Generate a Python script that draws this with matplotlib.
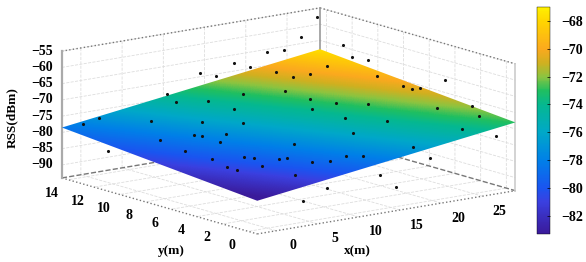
import matplotlib
matplotlib.use("Agg")
import matplotlib.pyplot as plt
import numpy as np
from matplotlib.colors import LinearSegmentedColormap, Normalize
from matplotlib.cm import ScalarMappable
from matplotlib.patches import Polygon
from matplotlib.transforms import Affine2D
from mpl_toolkits.mplot3d import proj3d

plt.rcParams["font.family"] = ["Liberation Serif", "DejaVu Serif"]
plt.rcParams["font.weight"] = "bold"

x_ticks = [0, 5, 10, 15, 20, 25]
y_ticks = [0, 2, 4, 6, 8, 10, 12, 14]
z_ticks = [-55, -60, -65, -70, -75, -80, -85, -90]
cbar_ticks = [-68, -70, -72, -74, -76, -78, -80, -82]
x_lim = (-2.3, 29)
y_lim = (-0.7, 14.5)
z_lim = (-94, -55)

# 평면 네 꼭짓점 (행: y, 열: x)
plane_z = [[-83.8, -73.0], [-78.5, -67.7]]

# 측정 지점
point_x = [21.9, 24.0, 17.9, 19.9, 13.8, 15.8, 21.9, 22.2, 9.8, 10.0, 12.2, 15.9, 19.1, 12.5,
           4.9, 8.1, 10.6, 1.6, -0.4, 28.0, 26.1, 28.4, 28.4, 28.4, 26.4, 23.9, 28.0, 28.0,
           28.0, 28.4, 28.4, 26.3, 28.4, 27.7, 24.2, 19.4, 20.4, 22.4, 17.7, 18.5, 20.6, -1.7,
           2.1, 1.7, 5.3, 5.7, 5.6, 7.5, 2.2, 4.7, 5.2, 6.7, 7.4, 4.3, 1.8, 1.9, 16.2, 27.3,
           10.3, 8.2, 9.6, 11.6, 12.7, 17.7, 19.3, 4.8, 13.2, 6.8, 15.1, 3.9]
point_y = [14.1, 14.1, 14.1, 14.1, 14.1, 14.1, 13.4, 12.2, 14.1, 13.5, 12.4, 12.1, 10.9, 10.6,
           12.2, 10.3, 8.7, 14.1, 14.1, 14.1, 14.1, 12.3, 11.6, 10.4, 12.3, 12.0, 9.4, 7.4,
           6.7, 6.3, 4.4, 3.7, 2.3, 1.3, 0.4, 9.1, 7.7, 6.5, 7.9, 5.8, 3.9, 11.3, 9.7, 7.5,
           9.1, 8.7, 7.3, 8.0, 5.7, 4.8, 4.4, 3.4, 3.2, 3.2, 4.3, 3.6, 3.7, -0.3, 4.5, 1.8,
           1.3, 1.3, 0.7, 0.0, -0.3, 0.9, -0.3, -0.3, -0.3, -0.3]
point_z = [-65.2, -65.4, -66.9, -68.9, -68.2, -70.0, -70.5, -70.9, -73.0, -74.6, -74.2, -73.1,
           -72.4, -74.8, -76.8, -76.4, -76.1, -76.9, -77.7, -56.9, -62.3, -63.7, -66.6, -66.1,
           -69.4, -70.4, -69.8, -70.6, -70.8, -70.2, -65.5, -72.4, -71.2, -72.8, -74.3, -72.9,
           -73.0, -72.8, -73.9, -74.4, -74.3, -82.3, -78.7, -79.6, -77.8, -77.8, -78.3, -77.4,
           -80.0, -79.5, -79.5, -79.3, -79.1, -80.2, -80.7, -80.9, -75.9, -77.0, -77.7, -79.3,
           -79.0, -78.3, -78.1, -76.7, -80.4, -80.8, -82.8, -84.1, -87.3, -86.9]

map_levels = [-83.3, -82, -81, -80, -78, -76, -74, -73, -72, -71, -70, -68, -67]
map_colors = ["#3a1a9a", "#3a2fc0", "#3a40e0", "#1a55f0", "#0080e8", "#00a8c8", "#05b890",
              "#20bf60", "#8cc440", "#d0b020", "#fba91e", "#ffd500", "#fff000"]
norm = Normalize(-83.3, -67)
cmap = LinearSegmentedColormap.from_list("rss", [(norm(v), c) for v, c in zip(map_levels, map_colors)])

fig = plt.figure(figsize=(5.86, 2.62), dpi=100)
ax = fig.add_axes([0.0265, 0.025, 0.92, 1], projection="3d", proj_type="ortho",
                  azim=-127.4, elev=12.66)
ax.set_box_aspect((1, 0.99, 0.4), zoom=1.761)
ax.set_xlim(x_lim)
ax.set_ylim(y_lim)
ax.set_zlim(z_lim)
ax.set_xticks(x_ticks)
ax.set_yticks(y_ticks)
ax.set_zticks(z_ticks)
ax.set_xticklabels([])
ax.set_yticklabels([])
ax.set_zticklabels([])
for a in (ax.xaxis, ax.yaxis, ax.zaxis):
    a.set_pane_color((1, 1, 1, 0))
    a.line.set_color((1, 1, 1, 0))
    a._axinfo["grid"].update(color="#dddddd", linewidth=0.6, linestyle="--")
    a._axinfo["tick"].update(inward_factor=0, outward_factor=0)

fig.canvas.draw()
M = ax.get_proj()


def to_pixel(xs, ys, zs):
    px, py, _ = proj3d.proj_transform(np.array(xs, float), np.array(ys, float),
                                      np.array(zs, float), M)
    return ax.transData.transform(np.column_stack([px, py]))


ov = fig.add_axes([0, 0, 1, 1], facecolor="none")
ov.axis("off")

# 바깥 테두리
x0, x1 = x_lim
y0, y1 = y_lim
z0, z1 = z_lim
for p, q, st in [((x0, y1, z1), (x1, y1, z1), ":"), ((x1, y1, z1), (x1, y0, z1), ":"),
                 ((x0, y1, z0), (x0, y0, z0), ":"), ((x0, y0, z0), (x1, y0, z0), ":"),
                 ((x0, y1, z0), (x1, y1, z0), "--"), ((x1, y1, z0), (x1, y0, z0), "--")]:
    pts = to_pixel(*zip(p, q))
    ov.plot(pts[:, 0], pts[:, 1], color="#777777", lw=1.0, ls=st, zorder=1)
pts = to_pixel([x0, x0], [y1, y1], [z0, z1])
ov.plot(pts[:, 0], pts[:, 1], color="#aaaaaa", lw=1.6, zorder=1)
pts = to_pixel([x1, x1], [y1, y1], [z0, z1])
ov.plot(pts[:, 0], pts[:, 1], color="#999999", lw=1.2, zorder=1)
pts = to_pixel([x1, x1], [y0, y0], [z0, z1])
ov.plot(pts[:, 0], pts[:, 1], color="#cccccc", lw=1.2, zorder=1)

# 평면: 2x2 값을 bilinear 로 그리고 평행사변형으로 자르기
c00 = to_pixel([x0], [y0], [plane_z[0][0]])[0]
c10 = to_pixel([x1], [y0], [plane_z[0][1]])[0]
c01 = to_pixel([x0], [y1], [plane_z[1][0]])[0]
c11 = to_pixel([x1], [y1], [plane_z[1][1]])[0]
ex, ey = c10 - c00, c01 - c00
unit = Affine2D(np.array([[ex[0], ey[0], c00[0]], [ex[1], ey[1], c00[1]], [0, 0, 1]]))
im = ov.imshow(plane_z, origin="lower", extent=(-0.5, 1.5, -0.5, 1.5), cmap=cmap, norm=norm,
               interpolation="bilinear", interpolation_stage="data", aspect="auto",
               transform=unit + ov.transData, zorder=2)
clip = Polygon([c00, c10, c11, c01], closed=True, transform=ov.transData, fc="none", ec="none")
ov.add_patch(clip)
im.set_clip_path(clip)

pts = to_pixel(point_x, point_y, point_z)
ov.scatter(pts[:, 0], pts[:, 1], s=5, color="#111111", linewidths=0, zorder=3)
ov.set_xlim(0, 586)
ov.set_ylim(0, 262)

# 눈금 글자
for v in z_ticks:
    p = to_pixel([x0], [y1], [v])[0]
    ov.text(p[0] - 9, p[1], f"\u2212{abs(v)}", ha="right", va="center", fontsize=10)
for v in x_ticks:
    p = to_pixel([v], [y0], [z0])[0]
    ov.text(p[0] + 17, p[1] - 15, str(v), ha="center", va="center", fontsize=10)
for v in y_ticks:
    p = to_pixel([x0], [v], [z0])[0]
    ov.text(p[0] - 16, p[1] - 14, str(v), ha="center", va="center", fontsize=10)
ov.text(171, 11, "y(m)", ha="center", va="center", fontsize=9.5)
ov.text(357, 11, "x(m)", ha="center", va="center", fontsize=9.5)
ov.text(12, 144, "RSS(dBm)", ha="center", va="center", fontsize=9.5, rotation=90)

cax = fig.add_axes([537 / 586, 1 - 234 / 262, 13 / 586, 227 / 262])
cb = fig.colorbar(ScalarMappable(norm=norm, cmap=cmap), cax=cax)
cb.set_ticks(cbar_ticks)
cb.set_ticklabels([f"\u2212{abs(v)}" for v in cbar_ticks])
cb.ax.tick_params(direction="in", length=2, width=0.5, labelsize=10, pad=8)
cb.outline.set_linewidth(0.3)

fig.savefig("out.png", dpi=100)
